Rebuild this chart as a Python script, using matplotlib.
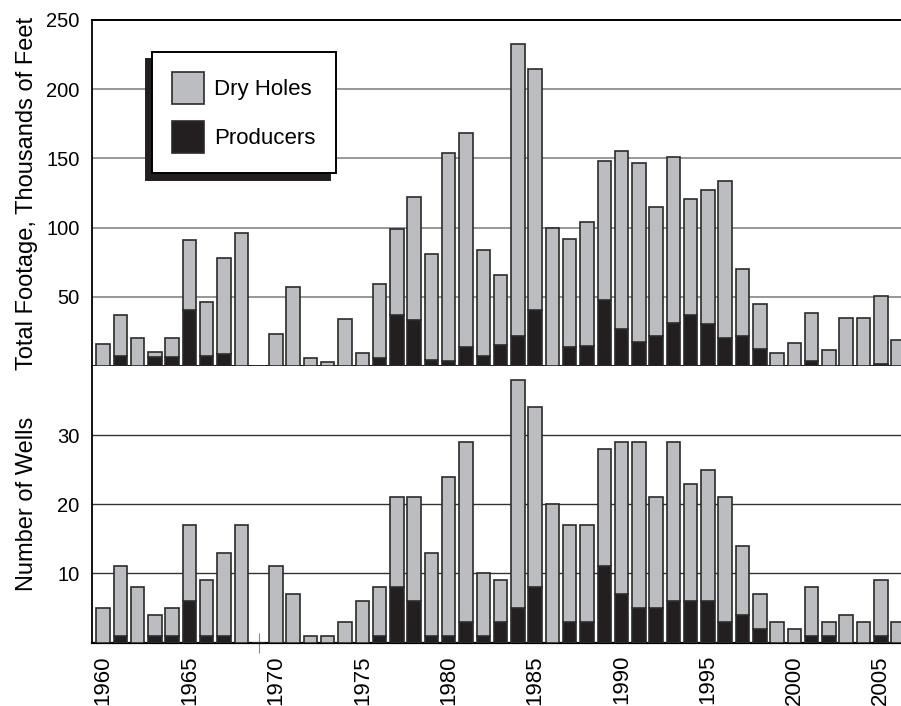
import matplotlib.pyplot as plt
from matplotlib.patches import Patch

plt.rcParams["font.family"] = ["Liberation Sans", "DejaVu Sans"]

years = list(range(1960, 2007))

# footage drilled, thousands of feet
footage_producers = [0, 7.5, 0, 6.5, 6.5, 40.5, 7, 8.5, 0, 0,
                     0, 0, 0, 0, 0, 0, 6, 36.5, 33.5, 4.5,
                     3.5, 13.5, 7.5, 15.5, 21.5, 40.5, 0, 14, 14.5, 48,
                     26.5, 17, 21.5, 31, 37, 30.5, 20, 21.5, 12.5, 0,
                     0, 3.5, 0, 0, 0, 1.5, 0]
footage_dry = [16, 29.5, 20, 3.5, 13.5, 50.5, 39, 69.5, 96, 0,
               23, 57, 6, 3, 34, 9.5, 53, 62.5, 88.5, 76.5,
               150.5, 154.5, 76.5, 50.5, 211, 174, 100, 78, 89.5, 100,
               128.5, 130, 93.5, 120, 84, 97, 114, 48.5, 32.5, 9.5,
               16.5, 34.5, 11.5, 35, 34.5, 49, 19]

# number of wells
wells_producers = [0, 1, 0, 1, 1, 6, 1, 1, 0, 0,
                   0, 0, 0, 0, 0, 0, 1, 8, 6, 1,
                   1, 3, 1, 3, 5, 8, 0, 3, 3, 11,
                   7, 5, 5, 6, 6, 6, 3, 4, 2, 0,
                   0, 1, 1, 0, 0, 1, 0]
wells_dry = [5, 10, 8, 3, 4, 11, 8, 12, 17, 0,
             11, 7, 1, 1, 3, 6, 7, 13, 15, 12,
             23, 26, 9, 6, 33, 26, 20, 14, 14, 17,
             22, 24, 16, 23, 17, 19, 18, 10, 5, 3,
             2, 7, 2, 4, 3, 8, 3]

x_ticks = list(range(1960, 2006, 5))

GRAY = "#bcbdc0"
BLACK = "#231f20"
EDGE = "#2b2b2b"

fig = plt.figure(figsize=(9.01, 7.06), dpi=100)
ax_top = fig.add_axes([0.1021, 0.4816, 0.8979, 0.4901])
ax_bot = fig.add_axes([0.1021, 0.0899, 0.8979, 0.3917])


def draw_stack(ax, producers, dry):
    ax.bar(years, producers, width=0.78, color=BLACK, edgecolor=EDGE,
           linewidth=1.2, zorder=3)
    ax.bar(years, dry, bottom=producers, width=0.78, color=GRAY,
           edgecolor=EDGE, linewidth=1.2, zorder=3)


draw_stack(ax_top, footage_producers, footage_dry)
draw_stack(ax_bot, wells_producers, wells_dry)

for ax in (ax_top, ax_bot):
    ax.set_xlim(1959.36, 2006.17)
    ax.spines["right"].set_visible(False)
    ax.spines["left"].set_linewidth(1.3)
    ax.spines["left"].set_color("black")
    ax.set_axisbelow(True)
    ax.tick_params(axis="y", length=0, pad=9, labelsize=14.5)
    ax.tick_params(axis="x", length=0)

# top panel
ax_top.set_ylim(0, 250)
ax_top.set_yticks([50, 100, 150, 200, 250])
ax_top.yaxis.grid(True, color="#858585", linewidth=1.2)
ax_top.spines["top"].set_linewidth(1.4)
ax_top.spines["bottom"].set_linewidth(2.0)
ax_top.set_xticks([])
ax_top.set_ylabel("Total Footage, Thousands of Feet", fontsize=17)

# bottom panel
ax_bot.set_ylim(0, 40)
ax_bot.set_yticks([10, 20, 30])
ax_bot.yaxis.grid(True, color="#333333", linewidth=1.0)
ax_bot.spines["top"].set_visible(False)
ax_bot.spines["bottom"].set_linewidth(1.6)
ax_bot.set_xticks(x_ticks)
ax_bot.set_xticklabels([str(y) for y in x_ticks], rotation=90, fontsize=16)
ax_bot.tick_params(axis="x", pad=9)
ax_bot.set_xticks([1969], minor=True)
ax_bot.tick_params(axis="x", which="minor", direction="inout", length=14,
                   width=0.8, color="#888888")
ax_bot.set_ylabel("Number of Wells", fontsize=17)
ax_top.yaxis.set_label_coords(-0.067, 0.5)
ax_bot.yaxis.set_label_coords(-0.067, 0.5)

handles = [Patch(facecolor=GRAY, edgecolor=EDGE, linewidth=1.2, label="Dry Holes"),
           Patch(facecolor=BLACK, edgecolor=EDGE, linewidth=1.2, label="Producers")]
leg = ax_top.legend(handles=handles, loc="upper left",
                    bbox_to_anchor=(152 / 901, 1 - 52 / 706),
                    bbox_transform=fig.transFigure, borderaxespad=0,
                    fontsize=16, frameon=True, fancybox=False,
                    handlelength=1.45, handleheight=1.84, handletextpad=0.45,
                    labelspacing=0.75, borderpad=0.9,
                    shadow={"ox": -4.3, "oy": -5.0, "facecolor": BLACK,
                            "edgecolor": BLACK, "alpha": 1})
leg.get_frame().set_edgecolor("black")
leg.get_frame().set_linewidth(1.4)
leg.set_zorder(10)

fig.savefig("out.png", dpi=100)
